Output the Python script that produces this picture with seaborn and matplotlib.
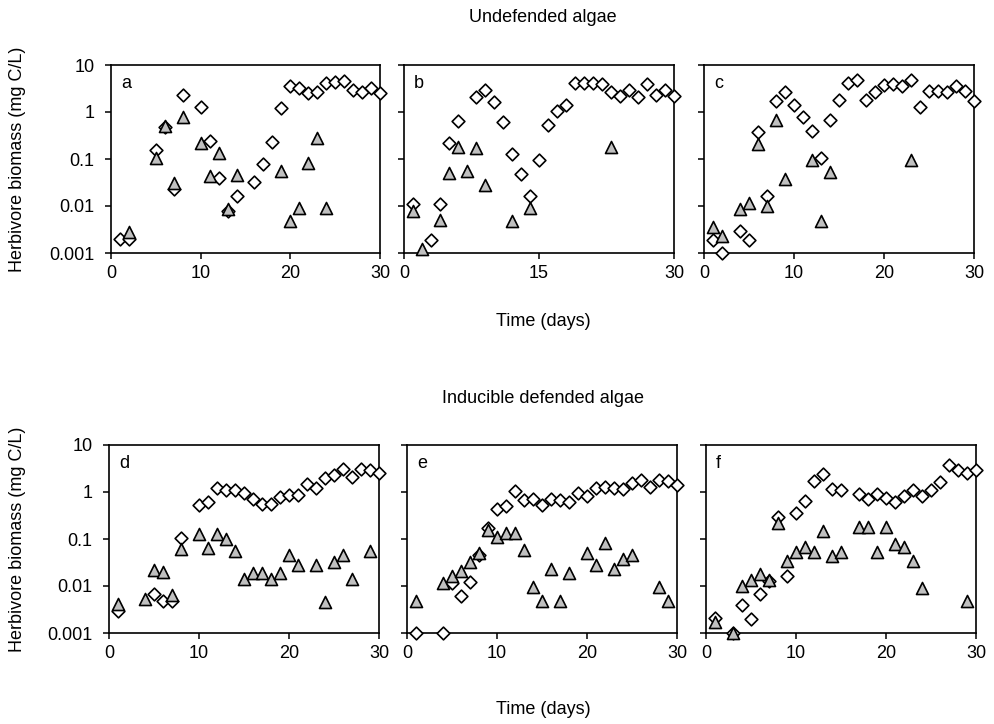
import matplotlib
matplotlib.use("Agg")
import matplotlib.pyplot as plt
from matplotlib.ticker import NullLocator, FixedLocator, FixedFormatter
import seaborn as sns

sns.set_theme(style="white")
plt.rcParams['font.family'] = ['Liberation Sans', 'DejaVu Sans']
plt.rcParams['text.color'] = 'black'
plt.rcParams['axes.labelcolor'] = 'black'
plt.rcParams['xtick.color'] = 'black'
plt.rcParams['ytick.color'] = 'black'

# ---- Undefended algae ----
# panel a
a_diam_days = [1, 2, 5, 6, 7, 8, 10, 11, 12, 13, 14, 16, 17, 18, 19, 20, 21, 22, 23, 24, 25, 26, 27, 28, 29, 30]
a_diam_vals = [0.002, 0.002, 0.157, 0.47, 0.023, 2.3, 1.26, 0.24, 0.040, 0.0077, 0.0165, 0.032, 0.079, 0.235,
               1.22, 3.5, 3.2, 2.5, 2.7, 4.2, 4.3, 4.6, 2.9, 2.6, 3.2, 2.5]
a_tri_days = [2, 5, 6, 7, 8, 10, 11, 12, 13, 14, 19, 20, 21, 22, 23, 24]
a_tri_vals = [0.0028, 0.104, 0.51, 0.031, 0.80, 0.224, 0.0425, 0.133, 0.0087, 0.046, 0.056, 0.0047, 0.009,
              0.081, 0.286, 0.009]

# panel b
b_diam_days = [1, 3, 4, 5, 6, 8, 9, 10, 11, 12, 13, 14, 15, 16, 17, 18, 19, 20, 21, 22, 23, 24, 25, 26, 27, 28, 29, 30]
b_diam_vals = [0.011, 0.0019, 0.011, 0.217, 0.65, 2.1, 3.0, 1.64, 0.6, 0.127, 0.048, 0.0165, 0.096, 0.53,
               1.05, 1.41, 4.1, 4.1, 4.1, 3.9, 2.7, 2.2, 2.9, 2.1, 3.9, 2.3, 2.9, 2.2]
b_tri_days = [1, 2, 4, 5, 6, 7, 8, 9, 12, 14, 23]
b_tri_vals = [0.008, 0.0012, 0.0051, 0.05, 0.18, 0.056, 0.175, 0.028, 0.0047, 0.009, 0.18]

# panel c
c_diam_days = [1, 2, 4, 5, 6, 7, 8, 9, 10, 11, 12, 13, 14, 15, 16, 17, 18, 19, 20, 21, 22, 23, 24, 25, 26, 27, 28, 29, 30]
c_diam_vals = [0.0019, 0.001, 0.003, 0.0019, 0.38, 0.0165, 1.75, 2.7, 1.41, 0.8, 0.4, 0.104, 0.66, 1.8, 4.2,
               4.8, 1.8, 2.7, 3.76, 3.9, 3.6, 4.8, 1.3, 2.85, 2.8, 2.6, 3.6, 2.85, 1.75]
c_tri_days = [1, 2, 4, 5, 6, 7, 8, 9, 12, 13, 14, 23]
c_tri_vals = [0.0036, 0.0023, 0.0086, 0.0115, 0.206, 0.0098, 0.68, 0.037, 0.093, 0.0047, 0.054, 0.093]

# ---- Inducible defended algae ----
# panel d
d_diam_days = [1, 5, 6, 7, 8, 10, 11, 12, 13, 14, 15, 16, 17, 18, 19, 20, 21, 22, 23, 24, 25, 26, 27, 28, 29, 30]
d_diam_vals = [0.0029, 0.0069, 0.0048, 0.0048, 0.107, 0.53, 0.61, 1.22, 1.08, 1.08, 0.95, 0.72, 0.56, 0.55,
               0.78, 0.88, 0.88, 1.5, 1.24, 2.0, 2.26, 3.1, 2.1, 3.1, 3.0, 2.5]
d_tri_days = [1, 4, 5, 6, 7, 8, 10, 11, 12, 13, 14, 15, 16, 17, 18, 19, 20, 21, 23, 24, 25, 26, 27, 29]
d_tri_vals = [0.0041, 0.0052, 0.0223, 0.02, 0.0063, 0.06, 0.13, 0.065, 0.13, 0.1, 0.056, 0.0139, 0.019,
              0.019, 0.0139, 0.019, 0.045, 0.0275, 0.0275, 0.0046, 0.032, 0.045, 0.0139, 0.056]

# panel e
e_diam_days = [1, 4, 5, 6, 7, 8, 9, 10, 11, 12, 13, 14, 15, 16, 17, 18, 19, 20, 21, 22, 23, 24, 25, 26, 27, 28, 29, 30]
e_diam_vals = [0.001, 0.001, 0.0118, 0.006, 0.012, 0.046, 0.168, 0.43, 0.5, 1.04, 0.69, 0.72, 0.54, 0.72,
               0.67, 0.62, 0.96, 0.82, 1.24, 1.29, 1.24, 1.18, 1.56, 1.78, 1.29, 1.78, 1.7, 1.4]
e_tri_days = [1, 4, 5, 6, 7, 8, 9, 10, 11, 12, 13, 14, 15, 16, 17, 18, 20, 21, 22, 23, 24, 25, 28, 29]
e_tri_vals = [0.0047, 0.0115, 0.0167, 0.021, 0.033, 0.05, 0.155, 0.112, 0.132, 0.135, 0.057, 0.0093, 0.0047,
              0.0227, 0.0047, 0.0187, 0.051, 0.028, 0.084, 0.0227, 0.0377, 0.046, 0.0093, 0.0047]

# panel f
f_diam_days = [1, 3, 4, 5, 6, 7, 8, 9, 10, 11, 12, 13, 14, 15, 17, 18, 19, 20, 21, 22, 23, 24, 25, 26, 27, 28, 29, 30]
f_diam_vals = [0.0021, 0.001, 0.004, 0.002, 0.0069, 0.0126, 0.29, 0.016, 0.35, 0.63, 1.69, 2.4, 1.16, 1.08,
               0.92, 0.71, 0.92, 0.74, 0.61, 0.81, 1.08, 0.84, 1.08, 1.6, 3.7, 3.0, 2.5, 3.0]
f_tri_days = [1, 3, 4, 5, 6, 7, 8, 9, 10, 11, 12, 13, 14, 15, 17, 18, 19, 20, 21, 22, 23, 24, 29]
f_tri_vals = [0.0017, 0.001, 0.0098, 0.0132, 0.018, 0.0132, 0.22, 0.0335, 0.053, 0.068, 0.053, 0.148, 0.043,
              0.053, 0.18, 0.18, 0.053, 0.18, 0.08, 0.068, 0.0335, 0.0089, 0.0047]

y_ticks = [0.001, 0.01, 0.1, 1, 10]
y_tick_labels = ["0.001", "0.01", "0.1", "1", "10"]
x_ticks_std = [0, 10, 20, 30]
x_ticks_b = [0, 15, 30]

row_titles = ["Undefended algae", "Inducible defended algae"]
x_label = "Time (days)"
y_label = "Herbivore biomass (mg C/L)"

W, H = 995, 724
FS = 13
fig = plt.figure(figsize=(W / 100, H / 100), dpi=100)


def box(left, right, top, bottom):
    return [left / W, 1 - bottom / H, (right - left) / W, (bottom - top) / H]


def panel(rect, dd, dv, td, tv, letter, xticks, ylabels):
    ax = fig.add_axes(rect)
    sns.scatterplot(x=dd, y=dv, ax=ax, marker="D", s=42, color="white",
                    edgecolor="black", linewidth=1.2, clip_on=False, zorder=3)
    sns.scatterplot(x=td, y=tv, ax=ax, marker="^", s=75, color="#c0c0c0",
                    edgecolor="black", linewidth=1.2, clip_on=False, zorder=4)
    ax.set_yscale("log")
    ax.set_xlim(0, 30)
    ax.set_ylim(0.001, 10)
    ax.yaxis.set_major_locator(FixedLocator(y_ticks))
    ax.yaxis.set_minor_locator(NullLocator())
    if ylabels:
        ax.yaxis.set_major_formatter(FixedFormatter(y_tick_labels))
    else:
        ax.yaxis.set_major_formatter(FixedFormatter([""] * len(y_ticks)))
    ax.set_xticks(xticks)
    ax.set_xticklabels([str(t) for t in xticks])
    ax.tick_params(axis="both", which="major", direction="out", length=4, width=1.1,
                   labelsize=FS, color="black", labelcolor="black", pad=5,
                   bottom=True, left=True)
    ax.tick_params(axis="y", pad=8)
    for sp in ax.spines.values():
        sp.set_visible(True)
        sp.set_color("black")
        sp.set_linewidth(1.2)
    ax.set_xlabel("")
    ax.set_ylabel("")
    ax.annotate(letter, xy=(0, 1), xycoords="axes fraction", xytext=(10, -19),
                textcoords="offset pixels", fontsize=FS, va="center", ha="left")
    return ax


panel(box(111, 380, 65, 253), a_diam_days, a_diam_vals, a_tri_days, a_tri_vals, "a", x_ticks_std, True)
panel(box(404, 674, 65, 253), b_diam_days, b_diam_vals, b_tri_days, b_tri_vals, "b", x_ticks_b, False)
panel(box(704, 974, 65, 253), c_diam_days, c_diam_vals, c_tri_days, c_tri_vals, "c", x_ticks_std, False)
panel(box(109, 379, 445, 633), d_diam_days, d_diam_vals, d_tri_days, d_tri_vals, "d", x_ticks_std, True)
panel(box(407, 677, 445, 633), e_diam_days, e_diam_vals, e_tri_days, e_tri_vals, "e", x_ticks_std, False)
panel(box(706, 976, 445, 633), f_diam_days, f_diam_vals, f_tri_days, f_tri_vals, "f", x_ticks_std, False)

fig.text(543 / W, 1 - 18 / H, row_titles[0], ha="center", va="center", fontsize=FS)
fig.text(543 / W, 1 - 399 / H, row_titles[1], ha="center", va="center", fontsize=FS)
fig.text(543 / W, 1 - 322 / H, x_label, ha="center", va="center", fontsize=FS)
fig.text(543 / W, 1 - 710 / H, x_label, ha="center", va="center", fontsize=FS)
fig.text(18 / W, 1 - 159 / H, y_label, ha="center", va="center", rotation=90, fontsize=FS)
fig.text(18 / W, 1 - 539 / H, y_label, ha="center", va="center", rotation=90, fontsize=FS)

fig.savefig("out.png", dpi=100, facecolor="white")
